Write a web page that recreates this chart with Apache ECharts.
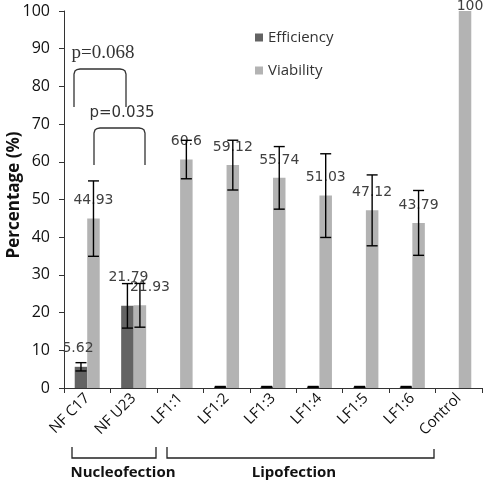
<!DOCTYPE html>
<html>
<head>
<meta charset="utf-8">
<script src="https://cdn.jsdelivr.net/npm/echarts@6/dist/echarts.min.js"></script>
<style>html,body{margin:0;padding:0;background:#fff;}#c{width:484px;height:482px;}</style>
</head>
<body>
<div id="c"></div>
<script>
const categories = ['NF C17', 'NF U23', 'LF1:1', 'LF1:2', 'LF1:3', 'LF1:4', 'LF1:5', 'LF1:6', 'Control'];
const efficiency = [5.62, 21.79, 0, 0.3, 0.3, 0.3, 0.3, 0.3, 0];
const efficiencyErr = [1.1, 5.9, 0, 0.1, 0.1, 0.1, 0.1, 0.1, 0];
const viability = [44.93, 21.93, 60.6, 59.12, 55.74, 51.03, 47.12, 43.79, 100];
const viabilityErr = [10, 5.8, 5.1, 6.6, 8.3, 11.1, 9.4, 8.6, 0];
const yTicks = [0, 10, 20, 30, 40, 50, 60, 70, 80, 90, 100];
const yTitle = 'Percentage (%)';

const BAR_W = 12.5;
const labelOffsetsEff = {0: [-3, 0], 1: [1, -10]};
const labelOffsetsVia = {1: [10, 0], 8: [5, 13]};

const chart = echarts.init(document.getElementById('c'), null, {renderer: 'canvas'});

function errRenderer(errs, sign) {
  return function (params, api) {
    const i = api.value(0);
    const v = api.value(1);
    const e = errs[i];
    if (!e) return null;
    const top = api.coord([i, v + e]);
    const bot = api.coord([i, v - e]);
    const x = top[0] + sign * BAR_W / 2;
    const cap = 5.5;
    const st = {stroke: '#000', lineWidth: 1.4};
    return {
      type: 'group',
      children: [
        {type: 'line', shape: {x1: x, y1: top[1], x2: x, y2: bot[1]}, style: st},
        {type: 'line', shape: {x1: x - cap, y1: top[1], x2: x + cap, y2: top[1]}, style: st},
        {type: 'line', shape: {x1: x - cap, y1: bot[1], x2: x + cap, y2: bot[1]}, style: st}
      ]
    };
  };
}

const labelBase = {
  show: true, position: 'top', distance: 11,
  fontFamily: 'DejaVu Sans', fontSize: 14, color: '#404040'
};

function bracketPoints(x1, x2, yTop, yBot) {
  return [[x1, yBot], [x1, yTop + 5], [x1 + 1, yTop + 2], [x1 + 3, yTop + 0.5], [x1 + 6, yTop],
          [x2 - 6, yTop], [x2 - 3, yTop + 0.5], [x2 - 1, yTop + 2], [x2, yTop + 5], [x2, yBot]];
}

const option = {
  animation: false,
  backgroundColor: '#fff',
  grid: {left: 64, right: 2, top: 11, bottom: 94, containLabel: false, outerBoundsMode: 'none'},
  legend: {
    orient: 'vertical', left: 250, top: 25,
    itemWidth: 8, itemHeight: 8, itemGap: 18,
    icon: 'rect',
    textStyle: {fontFamily: 'Open Sans', fontSize: 15, color: '#333'},
    data: ['Efficiency', 'Viability']
  },
  xAxis: {
    type: 'category', data: categories,
    axisLine: {lineStyle: {color: '#333', width: 1}},
    axisTick: {show: true, length: 5, lineStyle: {color: '#333'}},
    axisLabel: {rotate: 45, fontFamily: 'Open Sans', fontSize: 15, color: '#111', margin: 8, interval: 0}
  },
  yAxis: {
    type: 'value', min: 0, max: 100, interval: 10,
    splitLine: {show: false},
    axisLine: {show: true, lineStyle: {color: '#333', width: 1}},
    axisTick: {show: true, length: 5, lineStyle: {color: '#333'}},
    axisLabel: {fontFamily: 'Open Sans', fontSize: 16, color: '#111', margin: 14}
  },
  series: [
    {
      name: 'Efficiency', type: 'bar', barWidth: BAR_W, barGap: '0%',
      itemStyle: {color: '#636363'},
      data: efficiency.map((v, i) => ({
        value: v,
        label: Object.assign({}, labelBase, {show: v > 1, offset: labelOffsetsEff[i] || [0, 0]})
      }))
    },
    {
      name: 'Viability', type: 'bar', barWidth: BAR_W, barGap: '0%',
      itemStyle: {color: '#b3b3b3'},
      data: viability.map((v, i) => ({
        value: v,
        label: Object.assign({}, labelBase, {offset: labelOffsetsVia[i] || [0, 0]})
      }))
    },
    {
      type: 'custom', name: 'effErr', z: 5,
      renderItem: errRenderer(efficiencyErr, -1),
      data: efficiency.map((v, i) => [i, v]),
      silent: true
    },
    {
      type: 'custom', name: 'viaErr', z: 5,
      renderItem: errRenderer(viabilityErr, 1),
      data: viability.map((v, i) => [i, v]),
      silent: true
    }
  ],
  graphic: [
    {type: 'text', x: 14, y: 195, rotation: Math.PI / 2,
     style: {text: yTitle, font: 'bold 17px "Open Sans"', fill: '#111', align: 'center', verticalAlign: 'middle'}},
    {type: 'polyline', shape: {points: bracketPoints(74, 126, 69, 107)},
     style: {fill: null, stroke: '#333', lineWidth: 1.3}},
    {type: 'text', x: 103, y: 53, style: {text: 'p=0.068', font: '19px "Liberation Serif"', fill: '#333', align: 'center', verticalAlign: 'middle'}},
    {type: 'polyline', shape: {points: bracketPoints(94, 145, 128, 165)},
     style: {fill: null, stroke: '#333', lineWidth: 1.3}},
    {type: 'text', x: 122, y: 113, style: {text: 'p=0.035', font: '15px "DejaVu Sans"', fill: '#333', align: 'center', verticalAlign: 'middle'}},
    {type: 'polyline', shape: {points: [[72, 447], [72, 458], [156, 458], [156, 447]]},
     style: {fill: null, stroke: '#222', lineWidth: 1.3}},
    {type: 'polyline', shape: {points: [[167, 447], [167, 458], [434, 458], [434, 449]]},
     style: {fill: null, stroke: '#222', lineWidth: 1.3}},
    {type: 'text', x: 123, y: 473, style: {text: 'Nucleofection', font: 'bold 15px "Open Sans"', fill: '#111', align: 'center', verticalAlign: 'middle'}},
    {type: 'text', x: 294, y: 473, style: {text: 'Lipofection', font: 'bold 15px "Open Sans"', fill: '#111', align: 'center', verticalAlign: 'middle'}}
  ]
};
chart.setOption(option);
</script>
</body>
</html>
